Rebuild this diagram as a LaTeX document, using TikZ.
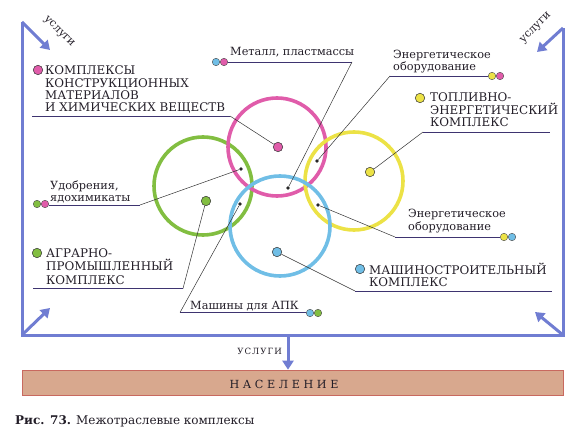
\documentclass[tikz,border=0pt]{standalone}
\usepackage{fontspec}
\setmainfont{DejaVu Serif}
\newfontfamily\widefont[LetterSpace=12]{DejaVu Serif}
\newfontfamily\widerfont[LetterSpace=32]{DejaVu Serif}
\usepackage{xcolor}
\usepackage{tikz}
\usetikzlibrary{arrows.meta}

\definecolor{pinkc}{RGB}{224,92,170}
\definecolor{greenc}{RGB}{130,190,65}
\definecolor{yellowc}{RGB}{236,226,70}
\definecolor{bluec}{RGB}{112,190,230}
\definecolor{framec}{RGB}{112,125,210}
\definecolor{boxfill}{RGB}{216,168,142}
\definecolor{boxdraw}{RGB}{200,105,95}
\definecolor{navyc}{RGB}{62,52,112}
\definecolor{inkc}{RGB}{35,30,40}

\tikzset{
	ring/.style={line width=3.6pt},
	hub/.style={circle,draw=black!80,line width=0.5pt,minimum size=9.5pt,inner sep=0pt},
	twin/.style={circle,draw=black!70,line width=0.4pt,minimum size=7.5pt,inner sep=0pt},
	knot/.style={circle,fill=black!85,minimum size=3.6pt,inner sep=0pt},
	lead/.style={draw=black!80,line width=0.5pt},
	uline/.style={draw=navyc,line width=0.9pt},
	bigtxt/.style={font=\fontsize{11.9}{13}\selectfont,text=inkc,inner sep=0pt,anchor=base west},
	smalltxt/.style={font=\fontsize{11.3}{13}\selectfont,text=inkc,inner sep=0pt,anchor=base west},
	frameline/.style={draw=framec,line width=3pt},
	corner/.style={frameline,-{Triangle[length=9pt,width=11pt]}}
}

\begin{document}
\begin{tikzpicture}[x=1pt,y=-1pt]
				\useasboundingbox (0,0) rectangle (577,435);

				\coordinate (tl) at (22,22);
				\coordinate (tr) at (563,28);
				\coordinate (bl) at (22,335);
				\coordinate (br) at (563,335);
				\coordinate (bm) at (288,335);
				\coordinate (tlin) at (50,50);
				\coordinate (trin) at (537,52);
				\coordinate (blin) at (50,308);
				\coordinate (brin) at (535,312);

				\draw[frameline] (tl) -- (bl) -- (br) -- (tr);
				\draw[corner] (tl) -- (tlin);
				\draw[corner] (tr) -- (trin);
				\draw[corner] (bl) -- (blin);
				\draw[corner] (br) -- (brin);

				\node[rotate=-45,font=\fontsize{11}{12}\selectfont,text=inkc,inner sep=1pt] (svtl) at (59,32) {услуги};
				\node[rotate=45,font=\fontsize{11}{12}\selectfont,text=inkc,inner sep=1pt] (svtr) at (536,28) {услуги};

				\node[draw=boxdraw,fill=boxfill,line width=0.6pt,minimum width=541pt,minimum height=25pt,inner sep=0pt] (popbox) at (292.5,382.5) {};
				\node[font=\widerfont\fontsize{11.2}{13}\selectfont,text=inkc,anchor=base,inner sep=0pt] (pop) at (284,388) {НАСЕЛЕНИЕ};
				\draw[corner] (bm) -- (popbox.north -| bm);
				\node[font=\widefont\fontsize{8.6}{10}\selectfont,text=inkc,anchor=base east,inner sep=0pt] (svbm) at (282,354) {УСЛУГИ};

				\draw[ring,draw=greenc] (203,186) circle (49pt);
				\draw[ring,draw=pinkc] (277,147) circle (49pt);
				\draw[ring,draw=yellowc] (354,181) circle (49pt);
				\draw[ring,draw=bluec] (280,226) circle (50pt);

				\node[hub,fill=pinkc] (hp) at (278,147) {};
				\node[hub,fill=greenc] (hg) at (206,201) {};
				\node[hub,fill=yellowc] (hy) at (370,172) {};
				\node[hub,fill=bluec] (hb) at (277,252) {};

				\node[knot] (kpg) at (241,169) {};
				\node[knot] (kpb) at (288,188) {};
				\node[knot] (kpy) at (317,161) {};
				\node[knot] (kgb) at (240,204) {};
				\node[knot] (kyb) at (318,205) {};

				\node[hub,fill=pinkc] (dp) at (38,70) {};
				\node[bigtxt] (tp1) at (45,75) {КОМПЛЕКСЫ};
				\node[bigtxt] (tp2) at (45,87.3) {КОНСТРУКЦИОННЫХ};
				\node[bigtxt] (tp3) at (45,99.6) {МАТЕРИАЛОВ};
				\node[bigtxt] (tp4) at (45,111.9) {И ХИМИЧЕСКИХ ВЕЩЕСТВ};
				\coordinate (up1) at (32,116);
				\coordinate (up2) at (230,116);
				\draw[uline] (up1) -- (up2);
				\draw[lead] (up2) -- (hp);

				\node[hub,fill=yellowc] (dy) at (420,98) {};
				\node[bigtxt] (ty1) at (430,102) {ТОПЛИВНО-};
				\node[bigtxt] (ty2) at (430,114.5) {ЭНЕРГЕТИЧЕСКИЙ};
				\node[bigtxt] (ty3) at (430,127) {КОМПЛЕКС};
				\coordinate (uy1) at (423,132);
				\coordinate (uy2) at (550,132);
				\draw[uline] (uy1) -- (uy2);
				\draw[lead] (uy1) -- (hy);

				\node[hub,fill=bluec] (db) at (360,269) {};
				\node[bigtxt] (tb1) at (369,274.5) {МАШИНОСТРОИТЕЛЬНЫЙ};
				\node[bigtxt] (tb2) at (369,286) {КОМПЛЕКС};
				\coordinate (ub1) at (355,291);
				\coordinate (ub2) at (552,291);
				\draw[uline] (ub1) -- (ub2);
				\draw[lead] (ub1) -- (hb);

				\node[hub,fill=greenc] (dg) at (37,253) {};
				\node[bigtxt] (tg1) at (46,257.5) {АГРАРНО-};
				\node[bigtxt] (tg2) at (46,270.8) {ПРОМЫШЛЕННЫЙ};
				\node[bigtxt] (tg3) at (46,284) {КОМПЛЕКС};
				\coordinate (ug1) at (33,288.5);
				\coordinate (ug2) at (183,288.5);
				\draw[uline] (ug1) -- (ug2);
				\draw[lead] (ug2) -- (hg);

				\node[twin,fill=bluec] (mt1) at (216,62) {};
				\node[twin,fill=pinkc] (mt2) at (224,62) {};
				\node[smalltxt] (tm) at (230,56) {Металл, пластмассы};
				\coordinate (um1) at (228,62);
				\coordinate (um2) at (352,62);
				\draw[uline] (um1) -- (um2);
				\draw[lead] (um2) -- (kpb);

				\node[smalltxt] (te1) at (393,58.5) {Энергетическое};
				\node[smalltxt] (te2) at (393,70.5) {оборудование};
				\node[twin,fill=yellowc] (et1) at (492,76) {};
				\node[twin,fill=pinkc] (et2) at (500,76) {};
				\coordinate (ue1) at (390,76);
				\coordinate (ue2) at (488,76);
				\draw[uline] (ue1) -- (ue2);
				\draw[lead] (ue1) -- (kpy);

				\node[smalltxt] (tf1) at (408,218) {Энергетическое};
				\node[smalltxt] (tf2) at (408,230) {оборудование};
				\node[twin,fill=yellowc] (ft1) at (504,237) {};
				\node[twin,fill=bluec] (ft2) at (512,237) {};
				\coordinate (uf1) at (395,237);
				\coordinate (uf2) at (500,237);
				\draw[uline] (uf1) -- (uf2);
				\draw[lead] (uf1) -- (kyb);

				\node[smalltxt] (ta) at (190,309) {Машины для АПК};
				\node[twin,fill=bluec] (at1) at (310,313) {};
				\node[twin,fill=greenc] (at2) at (318,313) {};
				\coordinate (ua1) at (180,312.5);
				\coordinate (ua2) at (306,312.5);
				\draw[uline] (ua1) -- (ua2);
				\draw[lead] (ua1) -- (kgb);

				\node[twin,fill=greenc] (ut1) at (37,204) {};
				\node[twin,fill=pinkc] (ut2) at (45,204) {};
				\node[smalltxt] (tu1) at (50,190) {Удобрения,};
				\node[smalltxt] (tu2) at (50,201.5) {ядохимикаты};
				\coordinate (uu1) at (49,205);
				\coordinate (uu2) at (140,205);
				\draw[uline] (uu1) -- (uu2);
				\draw[lead] (uu2) -- (kpg);

				\node[anchor=base west,inner sep=0pt,text=inkc,font=\fontsize{12}{14}\selectfont] (cap) at (15,424.5) {\textbf{Рис. 73.} Межотраслевые комплексы};
\end{tikzpicture}
\end{document}
